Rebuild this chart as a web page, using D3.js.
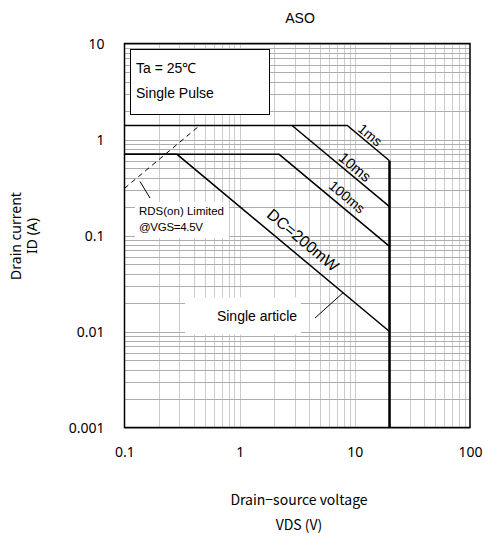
<!DOCTYPE html>
<html><head><meta charset="utf-8">
<script src="https://cdn.jsdelivr.net/npm/d3@7"></script>
<style>body{margin:0;background:#fff}svg{display:block}</style>
</head><body>
<svg id="c" width="485" height="539"></svg>
<script>
// ---- data ----
const xTicks = [0.1, 1, 10, 100];
const yTicks = [0.001, 0.01, 0.1, 1, 10];
const xTickLabels = ["0.1", "1", "10", "100"];
const yTickLabels = ["0.001", "0.01", "0.1", "1", "10"];
const vds1ms = [0.1, 8.6, 20];
const id1ms = [1.4, 1.4, 0.6];
const vds10ms = [2.85, 20];
const id10ms = [1.4, 0.2];
const vds100ms = [0.1, 2.2, 20];
const id100ms = [0.7, 0.7, 0.077];
const vdsDC = [0.1, 0.286, 20];
const idDC = [0.7, 0.7, 0.01];
const vdsMax = [20, 20];
const idMax = [0.6, 0.001];
const vdsRds = [0.1, 0.45];
const idRds = [0.31, 1.4];
const curveLabels = ["1ms", "10ms", "100ms", "DC=200mW"];

// ---- layout ----
const L = 124.5, R = 470, T = 43.5, B = 427.5;
const svg = d3.select("#c");
const x = d3.scaleLog().domain([0.1, 100]).range([L, R]);
const y = d3.scaleLog().domain([0.001, 10]).range([B, T]);
const fTick = "'Noto Sans','Open Sans',sans-serif";
const fArial = "'Liberation Sans',Arial,sans-serif";
const fJp = "'Noto Sans CJK JP',sans-serif";

// grid
const minor = [];
for (let e = -1; e < 2; e++) for (let k = 2; k <= 9; k++) minor.push(k * Math.pow(10, e));
const minorY = [];
for (let e = -3; e < 1; e++) for (let k = 1; k <= 9; k++) minorY.push(k * Math.pow(10, e));
minorY.push(10);
const g = svg.append("g");
g.selectAll("line.vx").data(minor.concat([1, 10])).enter().append("line")
  .attr("x1", d => Math.round(x(d)) + 0.5).attr("x2", d => Math.round(x(d)) + 0.5)
  .attr("y1", T).attr("y2", B).attr("stroke", "#cccccc").attr("stroke-width", 1);
g.selectAll("line.hy").data(minorY).enter().append("line")
  .attr("y1", d => Math.round(y(d)) + 0.5).attr("y2", d => Math.round(y(d)) + 0.5)
  .attr("x1", L).attr("x2", R).attr("stroke", "#adadad").attr("stroke-width", 1);

// axes (tick labels only)
const xa = d3.axisBottom(x).tickValues(xTicks).tickFormat((d, i) => xTickLabels[i]).tickSize(0).tickPadding(0);
const xg = svg.append("g").attr("transform", `translate(0,${B + 20})`).call(xa);
xg.select(".domain").remove();
xg.selectAll("text").attr("font-family", fTick).attr("font-size", 14).attr("fill", "#000").attr("dy", "0.71em");
const ya = d3.axisLeft(y).tickValues(yTicks).tickFormat((d, i) => yTickLabels[i]).tickSize(0).tickPadding(0);
const yg = svg.append("g").attr("transform", `translate(${L - 20},0)`).call(ya);
yg.select(".domain").remove();
yg.selectAll("text").attr("font-family", fTick).attr("font-size", 14).attr("fill", "#000").attr("dy", "0.35em");

// clip
svg.append("clipPath").attr("id", "clip").append("rect").attr("x", L).attr("y", T).attr("width", R - L).attr("height", B - T);
const plot = svg.append("g").attr("clip-path", "url(#clip)");
const line = d3.line().x(d => x(d[0])).y(d => y(d[1]));
const zip = (a, b) => a.map((v, i) => [v, b[i]]);

// RDS dashed
plot.append("path").attr("d", line(zip(vdsRds, idRds))).attr("fill", "none").attr("stroke", "#000")
  .attr("stroke-width", 1).attr("stroke-dasharray", "5,4");

// label boxes (white)
function labelBox(cx, cy, w, h) {
  plot.append("rect").attr("x", cx - w / 2).attr("y", cy - h / 2).attr("width", w).attr("height", h).attr("fill", "#fff");
}
const rdsX = 139, rdsY = 203;
labelBox(rdsX + 43, rdsY + 17, 94, 36);
const saCx = 243, saCy = 316;
labelBox(saCx, saCy, 116, 37);

// curves
[[vds1ms, id1ms], [vds10ms, id10ms], [vds100ms, id100ms], [vdsDC, idDC]].forEach(([a, b]) => {
  plot.append("path").attr("d", line(zip(a, b))).attr("fill", "none").attr("stroke", "#000").attr("stroke-width", 1.5);
});
plot.append("path").attr("d", line(zip(vdsMax, idMax))).attr("fill", "none").attr("stroke", "#000").attr("stroke-width", 2.5);

// leader lines
plot.append("line").attr("x1", 150).attr("y1", 198).attr("x2", 140).attr("y2", 181.5).attr("stroke", "#000").attr("stroke-width", 1);
const dcPt = [7.9, 0.2 / 7.9];
plot.append("line").attr("x1", 315).attr("y1", 318).attr("x2", x(dcPt[0])).attr("y2", y(dcPt[1])).attr("stroke", "#000").attr("stroke-width", 1);

// border
svg.append("rect").attr("x", L).attr("y", T).attr("width", R - L).attr("height", B - T)
  .attr("fill", "none").attr("stroke", "#000").attr("stroke-width", 1.5);

// legend box
svg.append("rect").attr("x", 130.5).attr("y", 49.5).attr("width", 139).attr("height", 65)
  .attr("fill", "#fff").attr("stroke", "#000").attr("stroke-width", 1);
svg.append("text").attr("x", 136).attr("y", 73).text("Ta = 25℃").attr("font-family", fArial).attr("font-size", 14);
svg.append("text").attr("x", 136).attr("y", 98).text("Single Pulse").attr("font-family", fArial).attr("font-size", 14);

// RDS label text
svg.append("text").attr("x", rdsX).attr("y", rdsY + 12).text("RDS(on) Limited").attr("font-family", fArial).attr("font-size", 11.5);
svg.append("text").attr("x", rdsX).attr("y", rdsY + 28).text("@VGS=4.5V").attr("font-family", fArial).attr("font-size", 11.5).attr("letter-spacing", -0.3);
// Single article
svg.append("text").attr("x", saCx + 14).attr("y", saCy + 5).attr("text-anchor", "middle").text("Single article")
  .attr("font-family", fArial).attr("font-size", 14);

// rotated curve labels
const ang = Math.atan2(y(0.1) - y(1), x(10) - x(1)) * 180 / Math.PI;
const labelPos = [[370, 135, 14], [355, 167, 15], [347, 197, 14], [303, 240, 16]];
curveLabels.forEach((t, i) => {
  const [cx, cy, fs] = labelPos[i];
  svg.append("text").attr("transform", `translate(${cx},${cy}) rotate(${ang})`).attr("text-anchor", "middle")
    .attr("dy", "0.35em").attr("font-family", fArial).attr("font-size", fs).text(t);
});

// titles
svg.append("text").attr("x", 300).attr("y", 23).attr("text-anchor", "middle").text("ASO").attr("font-family", fArial).attr("font-size", 14);
svg.append("text").attr("x", 299).attr("y", 505).attr("text-anchor", "middle").text("Drain−source voltage").attr("font-family", fJp).attr("font-size", 14);
svg.append("text").attr("x", 299).attr("y", 530).attr("text-anchor", "middle").text("VDS (V)").attr("font-family", fJp).attr("font-size", 14);
const yl = svg.append("text").attr("transform", "translate(22,236) rotate(-90)").attr("text-anchor", "middle")
  .attr("font-family", fTick).attr("font-size", 14);
yl.append("tspan").attr("x", 0).attr("dy", "-0.1em").text("Drain current");
yl.append("tspan").attr("x", 0).attr("dy", "1.2em").text("ID (A)");
</script>
</body></html>
